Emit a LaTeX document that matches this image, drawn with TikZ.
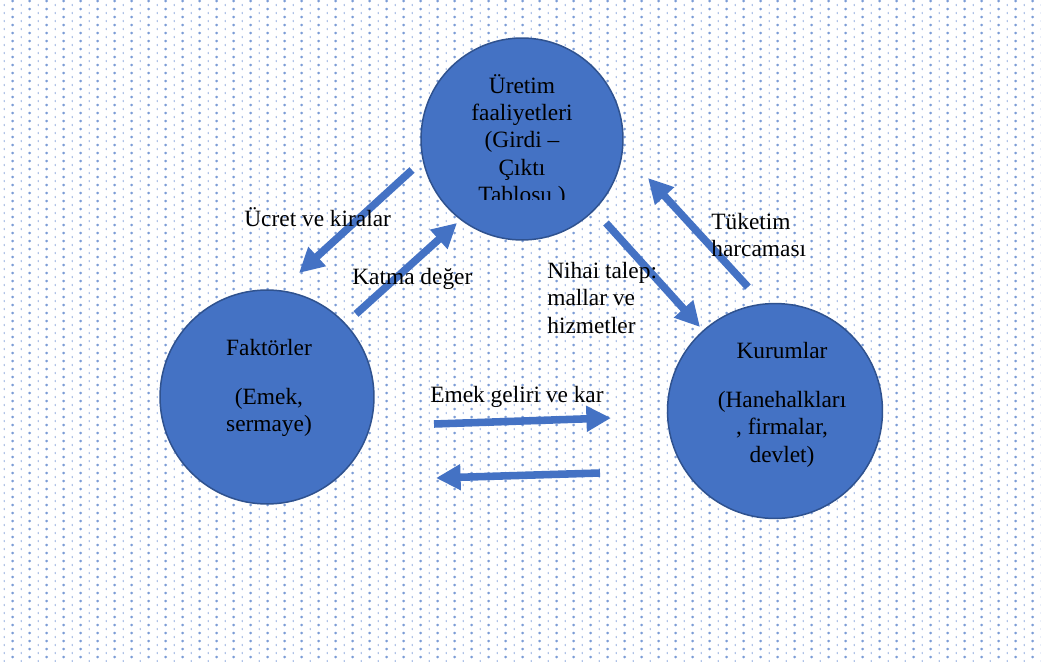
\documentclass[tikz,border=0pt]{standalone}
\usepackage{fontspec}
\setmainfont{Liberation Serif}
\usetikzlibrary{arrows.meta,patterns}

\definecolor{office}{HTML}{4472C4}
\definecolor{rim}{HTML}{2F528F}
\definecolor{dotbig}{HTML}{7C9CD6}
\definecolor{dotsmall}{HTML}{9CB4E2}

% dotted paper background: one round dot and one small tick per tile
\pgfdeclarepatternformonly{bigdots}{\pgfpointorigin}{\pgfpoint{9.638pt}{4.819pt}}{\pgfpoint{9.638pt}{4.819pt}}{%
  \pgfpathcircle{\pgfpoint{7.23pt}{3.61pt}}{0.85pt}\pgfusepath{fill}}
\pgfdeclarepatternformonly{smalldots}{\pgfpointorigin}{\pgfpoint{9.638pt}{4.819pt}}{\pgfpoint{9.638pt}{4.819pt}}{%
  \pgfpathellipse{\pgfpoint{2.41pt}{1.20pt}}{\pgfpoint{0.4pt}{0pt}}{\pgfpoint{0pt}{0.75pt}}\pgfusepath{fill}}

\begin{document}
\begin{tikzpicture}[x=0.02cm,y=-0.02cm,
  font=\fontsize{13.3pt}{15.6pt}\selectfont,
  hub/.style={circle, fill=office, draw=rim, line width=0.85pt, inner sep=0pt},
  flow/.style={draw=office, line width=4.3pt, -{Triangle[length=14pt,width=14pt]}},
  lbl/.style={inner sep=0pt, align=left}]

\useasboundingbox (0,0) rectangle (1041,662);
\fill[white] (0,0) rectangle (1041,662);
\fill[pattern=bigdots, pattern color=dotbig] (0,0) rectangle (1041,662);
\fill[pattern=smalldots, pattern color=dotsmall] (0,0) rectangle (1041,662);

% the three sectors
\node[hub, minimum size=4.04cm] (uretim) at (522,139) {};
\node[hub, minimum size=4.28cm] (faktor) at (267,397) {};
\node[hub, minimum size=4.30cm] (kurum) at (775,411) {};

% text of the production circle, cut off at the bottom of its box
\begin{scope}
  \clip (400,40) rectangle (650,200);
  \node[align=center, inner sep=0pt] (uretimtext) at (522,141)
    {Üretim\\faaliyetleri\\(Girdi –\\Çıktı\\Tablosu )};
\end{scope}

\node[align=center, inner sep=0pt] (faktortext) at (269,388)
  {Faktörler\\[12pt](Emek,\\sermaye)};
\node[align=center, inner sep=0pt] (kurumtext) at (782,405)
  {Kurumlar\\[12pt](Hanehalkları\\, firmalar,\\devlet)};

% flow arrows
\coordinate (a1s) at (412,170); \coordinate (a1e) at (299,273);
\coordinate (a2s) at (356,314); \coordinate (a2e) at (457,223);
\coordinate (a3s) at (606,223); \coordinate (a3e) at (700,327);
\coordinate (a4s) at (748,287); \coordinate (a4e) at (648,178);
\coordinate (a5s) at (434,424); \coordinate (a5e) at (611,418);
\coordinate (a6s) at (600,473); \coordinate (a6e) at (436,478);

\draw[flow] (a1s) -- (a1e);
\draw[flow] (a2s) -- (a2e);
\draw[flow] (a3s) -- (a3e);
\draw[flow] (a4s) -- (a4e);
\draw[flow] (a5s) -- (a5e);
\draw[flow] (a6s) -- (a6e);

% flow labels
\node[lbl, anchor=west] (ucret) at (244,217) {Ücret ve kiralar};
\node[lbl, anchor=west] (katma) at (352,279) {Katma değer};
\node[lbl, anchor=west] (nihai) at (547,298) {Nihai talep:\\mallar ve\\hizmetler};
\node[lbl, anchor=west] (tuketim) at (711,235) {Tüketim\\harcaması};
\node[lbl, anchor=west] (emek) at (430,397) {Emek geliri ve kar};
\end{tikzpicture}
\end{document}
